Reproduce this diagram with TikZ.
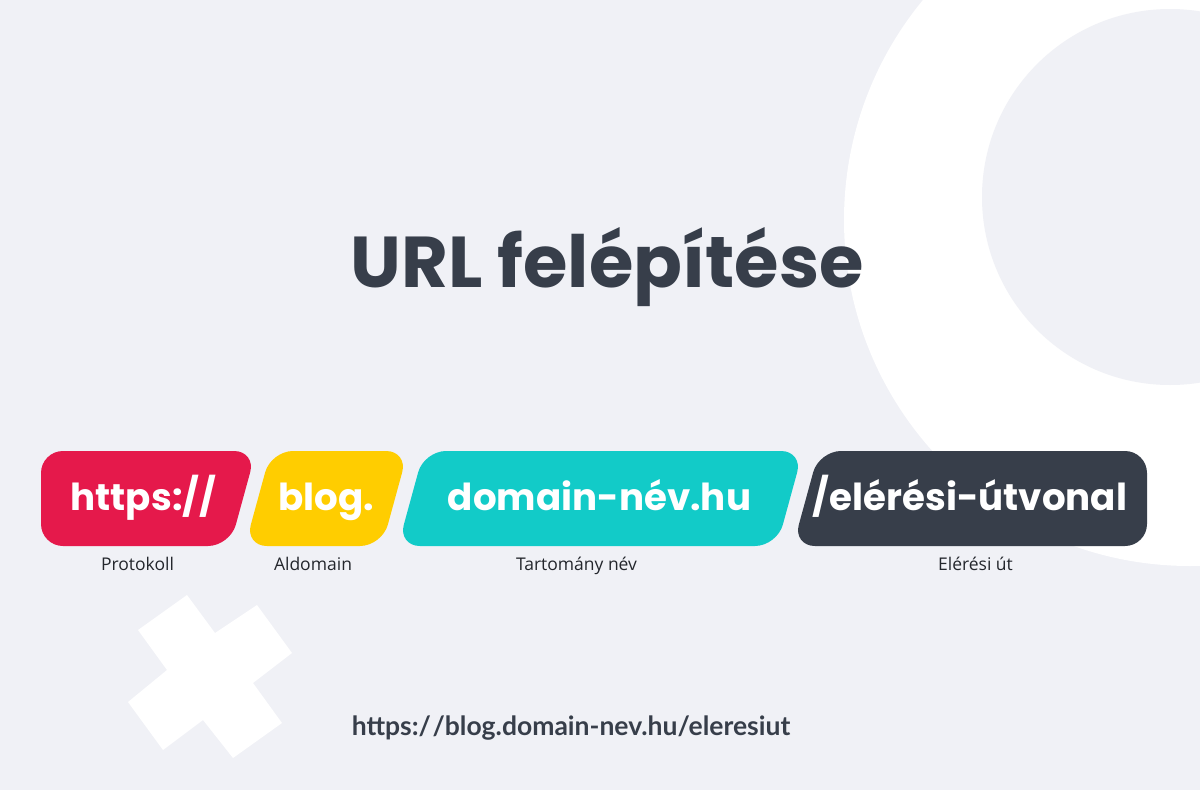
\documentclass[tikz,border=0pt]{standalone}
\usepackage{fontspec}
\setmainfont{Open Sans}
\newfontfamily\pop{Poppins}
\newfontfamily\lato{Lato}
\definecolor{bg}{HTML}{F0F1F6}
\definecolor{cred}{HTML}{E5194B}
\definecolor{cyel}{HTML}{FFCD00}
\definecolor{cteal}{HTML}{12CBC8}
\definecolor{cdark}{HTML}{373E4A}
\definecolor{clab}{HTML}{23262C}
\begin{document}
\begin{tikzpicture}[x=1pt,y=-1pt,
  pill/.style={rounded corners=22pt},
  boxtext/.style={anchor=base,inner sep=0pt,text=white,font=\pop\bfseries\fontsize{37.2}{40}\selectfont},
  labtext/.style={anchor=base,inner sep=0pt,text=clab,font=\fontsize{17.5}{20}\selectfont},
]
\useasboundingbox (0,0) rectangle (1200,790);
\fill[bg] (0,0) rectangle (1200,790);
% decorative ring
\begin{scope}
\clip (0,0) rectangle (1200,790);
\fill[white] (1190,220) circle[radius=346];
\fill[bg] (1170,197) circle[radius=188];
\end{scope}
% decorative cross
\fill[white] (187,595) -- (215,633) -- (257,605) -- (292,653) -- (253,683) -- (282,723)
  -- (233,758) -- (203,720) -- (163,750) -- (128,702) -- (167,670) -- (138,630) -- cycle;
% title
\node[anchor=base,inner sep=0pt,text=cdark,font=\pop\bfseries\fontsize{72}{80}\selectfont] (title) at (607,287) {URL felépítése};
% pills
\fill[cred,pill] (41,451) -- (256,451) -- (230,546) -- (41,546) -- cycle;
\fill[cyel,pill] (271,451) -- (408,451) -- (382,546) -- (245,546) -- cycle;
\fill[cteal,pill] (424,451) -- (803,451) -- (777,546) -- (398,546) -- cycle;
\fill[cdark,pill] (819,451) -- (1147,451) -- (1147,546) -- (793,546) -- cycle;
\node[boxtext] (proto) at (143.5,510) {https://};
\node[boxtext] (sub) at (326,510) {blog.};
\node[boxtext] (dom) at (599.5,510) {domain-név.hu};
\node[boxtext] (path) at (970,510) {/elérési-útvonal};
% labels
\node[labtext] (lproto) at (137.5,570) {Protokoll};
\node[labtext] (lsub) at (313,570) {Aldomain};
\node[labtext] (ldom) at (576.5,570) {Tartomány név};
\node[labtext] (lpath) at (975.5,570) {Elérési út};
% full url
\node[anchor=base,inner sep=0pt,text=cdark,font=\lato\bfseries\fontsize{26.5}{30}\selectfont] (url) at (571,735) {https:/\kern1.5pt/blog.domain-nev.hu/eleresiut};
\end{tikzpicture}
\end{document}
